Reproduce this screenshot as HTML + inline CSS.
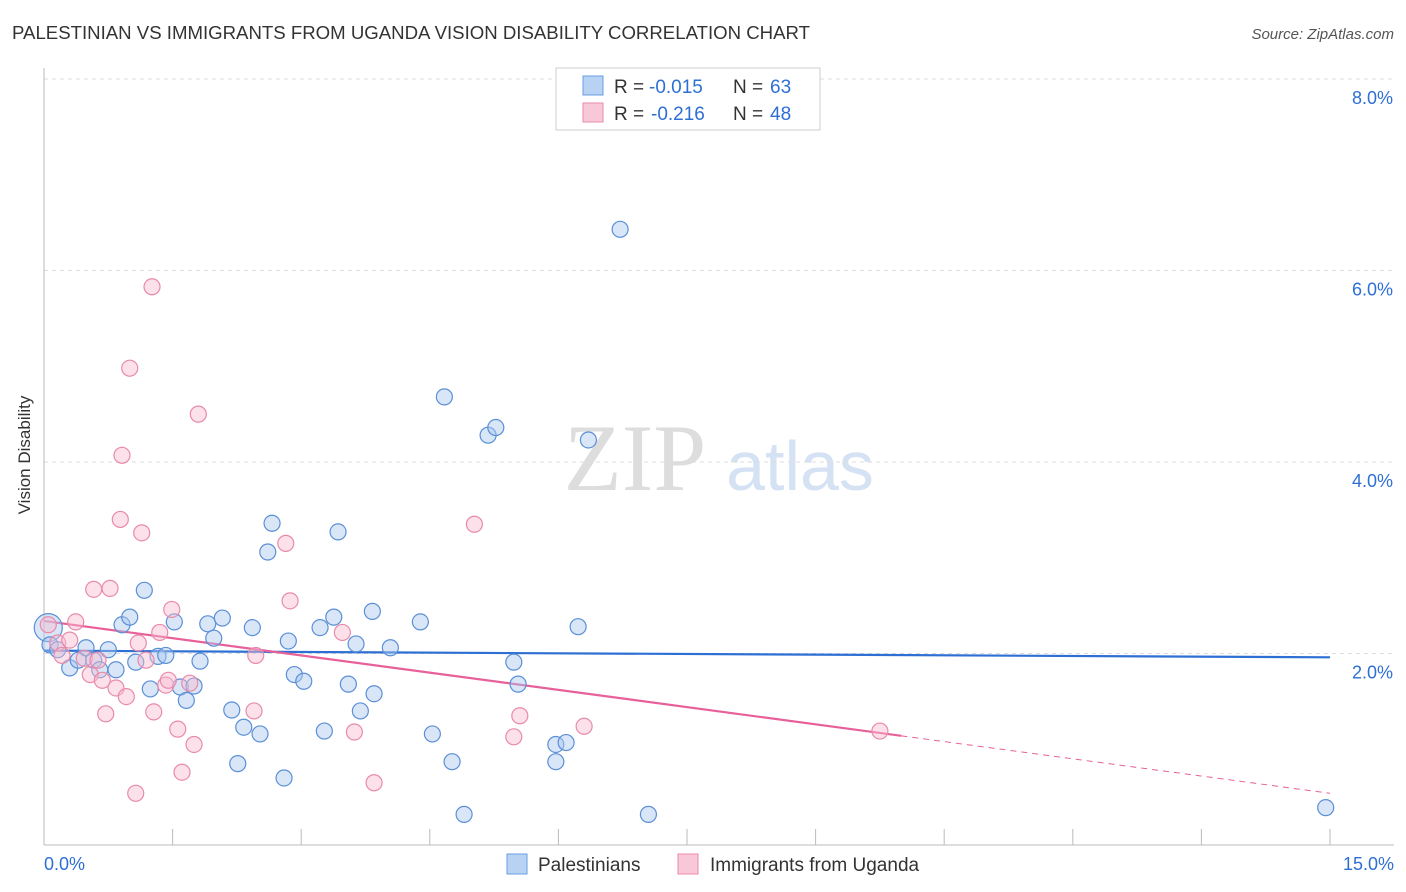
<!DOCTYPE html>
<html><head><meta charset="utf-8"><style>
body{margin:0;background:#fff;font-family:"Liberation Sans",sans-serif}
</style></head><body>
<svg id="c" width="1406" height="892" style="display:block">
<text x="12" y="39" font-size="18" fill="#333" textLength="798" lengthAdjust="spacingAndGlyphs">PALESTINIAN VS IMMIGRANTS FROM UGANDA VISION DISABILITY CORRELATION CHART</text>
<text x="1394" y="39" font-size="15" fill="#555" text-anchor="end" font-style="italic">Source: ZipAtlas.com</text>
<text x="30" y="455" font-size="17" fill="#333" text-anchor="middle" transform="rotate(-90 30 455)">Vision Disability</text>
<text x="635" y="490" font-size="95" fill="#ddd" font-family="Liberation Serif" text-anchor="middle">ZIP</text>
<text x="800" y="490" font-size="70" fill="#d4e2f4" text-anchor="middle">atlas</text>
<g id="grid"></g><g id="axes"></g><g id="trend"></g><g id="pts"></g>
<g>
<rect x="556" y="68" width="264" height="62" fill="#fff" stroke="#ccc"/>
<rect x="583" y="76" width="20" height="19" fill="#b8d2f4" stroke="#6a9de0"/>
<text x="614" y="93" font-size="19" fill="#333">R =</text>
<text x="649" y="93" font-size="19" fill="#2e6fd4">-0.015</text>
<text x="733" y="93" font-size="19" fill="#333">N =</text>
<text x="770" y="93" font-size="19" fill="#2e6fd4">63</text>
<rect x="583" y="103" width="20" height="19" fill="#f9c8d8" stroke="#e88aab"/>
<text x="614" y="120" font-size="19" fill="#333">R =</text>
<text x="651" y="120" font-size="19" fill="#2e6fd4">-0.216</text>
<text x="733" y="120" font-size="19" fill="#333">N =</text>
<text x="770" y="120" font-size="19" fill="#2e6fd4">48</text>
</g>
<g>
<rect x="507" y="854" width="20" height="20" fill="#b8d2f4" stroke="#6a9de0"/>
<text x="538" y="871" font-size="19" fill="#333">Palestinians</text>
<rect x="678" y="854" width="20" height="20" fill="#f9c8d8" stroke="#e88aab"/>
<text x="710" y="871" font-size="19" fill="#333">Immigrants from Uganda</text>
</g>
</svg>
<script>
const blueX=[0.05,0.07,0.16,0.30,0.40,0.49,0.58,0.65,0.75,0.84,0.91,1.00,1.07,1.17,1.24,1.33,1.42,1.52,1.59,1.66,1.75,1.82,1.91,1.98,2.08,2.19,2.26,2.33,2.43,2.52,2.61,2.66,2.80,2.85,2.92,3.03,3.22,3.27,3.38,3.43,3.55,3.64,3.69,3.83,3.85,4.04,4.39,4.53,4.67,4.76,4.90,5.18,5.27,5.48,5.53,5.97,5.97,6.09,6.23,6.35,6.72,7.05,14.95];
const blueY=[2.27,2.09,2.04,1.85,1.93,2.06,1.93,1.83,2.04,1.83,2.30,2.38,1.91,2.66,1.63,1.97,1.98,2.33,1.65,1.51,1.66,1.92,2.31,2.16,2.37,1.41,0.85,1.23,2.27,1.16,3.06,3.36,0.70,2.13,1.78,1.71,2.27,1.19,2.38,3.27,1.68,2.10,1.40,2.44,1.58,2.06,2.33,1.16,4.68,0.87,0.32,4.28,4.36,1.91,1.68,1.05,0.87,1.07,2.28,4.23,6.43,0.32,0.39];
const pinkX=[0.05,0.16,0.21,0.30,0.37,0.47,0.54,0.58,0.63,0.68,0.72,0.77,0.84,0.89,0.91,0.96,1.00,1.07,1.10,1.14,1.19,1.26,1.28,1.35,1.42,1.45,1.49,1.56,1.61,1.70,1.75,1.80,2.45,2.47,2.82,2.87,3.48,3.62,3.85,5.02,5.48,5.55,6.30,9.75];
const pinkY=[2.30,2.11,1.98,2.14,2.33,1.95,1.78,2.67,1.93,1.72,1.37,2.68,1.64,3.40,4.07,1.55,4.98,0.54,2.11,3.26,1.93,5.83,1.39,2.22,1.67,1.72,2.46,1.21,0.76,1.69,1.05,4.50,1.40,1.98,3.15,2.55,2.22,1.18,0.65,3.35,1.13,1.35,1.24,1.19];
const yTicks=[2,4,6,8];
const xTickLabels=["0.0%","15.0%"];
const blueTrend=[2.03,1.96];
const pinkTrend=[2.34,0.54];
const pinkSolidEnd=10.0;
const X=v=>44+v/15*1286, Y=v=>845-v*95.75;
const NS="http://www.w3.org/2000/svg";
function mk(t,a,p){const e=document.createElementNS(NS,t);for(const k in a)e.setAttribute(k,a[k]);p.appendChild(e);return e;}
const g=document.getElementById('grid'),ax=document.getElementById('axes'),tr=document.getElementById('trend'),pts=document.getElementById('pts');
yTicks.forEach(t=>{
 const l=mk('line',{x1:44,x2:1394,y1:Y(t),y2:Y(t),stroke:'#ddd','stroke-dasharray':'4,4'},g);
 
 
 const tx=mk('text',{x:1393,y:Y(t)+25,'font-size':18,fill:'#2e6fd4','text-anchor':'end'},ax);
 tx.textContent=t.toFixed(1)+'%';
 
 
});
let a=mk('line',{x1:44,x2:44,y1:68,y2:845,stroke:'#bbb'},ax);

a=mk('line',{x1:44,x2:1394,y1:845,y2:845,stroke:'#bbb'},ax);

for(let k=1;k<=10;k++){const t=mk('line',{x1:X(k*1.5),x2:X(k*1.5),y1:829,y2:845,stroke:'#bbb'},ax);
 }
let t0=mk('text',{x:44,y:870,'font-size':18,fill:'#2e6fd4'},ax);t0.textContent=xTickLabels[0];

let t1=mk('text',{x:1394,y:870,'font-size':18,fill:'#2e6fd4','text-anchor':'end'},ax);t1.textContent=xTickLabels[1];

function dot(x,y,r,f,s,n){const c=mk('circle',{cx:X(x),cy:Y(y),r:r,fill:f,'fill-opacity':0.45,stroke:s,'stroke-width':1.2},pts);
 }
blueX.forEach((x,i)=>dot(x,blueY[i],i==0?14:8,'#a8c8f0','#5b8fd6','palestinian-point'));
pinkX.forEach((x,i)=>dot(x,pinkY[i],8,'#f8bcd0','#e88aab','uganda-point'));
let l=mk('line',{x1:X(0),y1:Y(blueTrend[0]),x2:X(15),y2:Y(blueTrend[1]),stroke:'#2e6fd4','stroke-width':2.2},tr);

const py=v=>pinkTrend[0]+(pinkTrend[1]-pinkTrend[0])*v/15;
l=mk('line',{x1:X(0),y1:Y(py(0)),x2:X(pinkSolidEnd),y2:Y(py(pinkSolidEnd)),stroke:'#e8609a','stroke-width':2.2},tr);

l=mk('line',{x1:X(pinkSolidEnd),y1:Y(py(pinkSolidEnd)),x2:X(15),y2:Y(py(15)),stroke:'#e8609a','stroke-width':1,'stroke-dasharray':'6,5'},tr);

</script>
</body></html>
